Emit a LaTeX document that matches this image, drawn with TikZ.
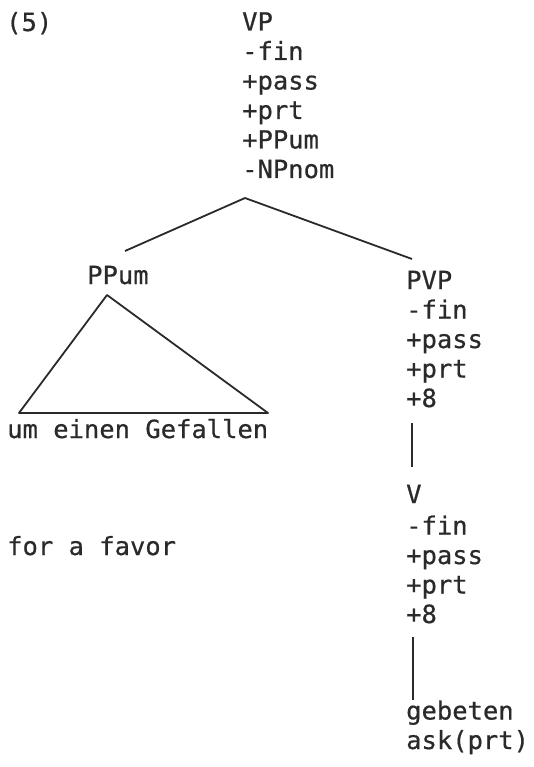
\documentclass[tikz,border=0pt]{standalone}
\usepackage{fontspec}
\setmainfont{DejaVu Sans Mono}[FakeBold=0.6, FakeStretch=1.02]
\usepackage{xcolor}
\usetikzlibrary{positioning}
\definecolor{ink}{HTML}{2A2A2A}
\tikzstyle{feat} = [inner sep=0pt, anchor=base west, align=left, text=ink, font=\fontsize{25}{29.5}\selectfont]
\tikzstyle{branch} = [draw=ink, line width=1.8pt, line join=round]

\begin{document}
\begin{tikzpicture}[x=1pt, y=-1pt]
    \useasboundingbox (0,0) rectangle (534,767);
    % Nodes (base = baseline of the last line)
    \node [feat] (num) at (6,31) {(5)};
    \node [feat] (vp) at (242,178) {VP\\-fin\\+pass\\+prt\\+PPum\\-NPnom};
    \node [feat] (ppum) at (87,284) {PPum};
    \node [feat] (pvp) at (406,407) {PVP\\-fin\\+pass\\+prt\\+8};
    \node [feat] (gefallen) at (7,438) {um einen Gefallen};
    \node [feat] (favor) at (7,555) {for a favor};
    \node [feat] (v) at (406,623) {V\\[2pt]-fin\\+pass\\+prt\\+8};
    \node [feat] (gebeten) at (406,749) {gebeten\\ask(prt)};
    
    % Branch points
    \coordinate (vpfoot) at (245,198);
    \coordinate (ppumhead) at (125,251);
    \coordinate (pvphead) at (412,259);
    \coordinate (ppumfoot) at (107,295);
    \coordinate (gefleft) at (19,413);
    \coordinate (gefright) at (268,413);
    \coordinate (pvpfoot) at (412,423);
    \coordinate (vhead) at (412,467);
    \coordinate (vfoot) at (413,637);
    \coordinate (gebhead) at (413,700);
    
    % Edges
    \path [branch] (vpfoot) -- (ppumhead);
    \path [branch] (vpfoot) -- (pvphead);
    \path [branch] (ppumfoot) -- (gefleft) -- (gefright) -- cycle;
    \path [branch] (pvpfoot) -- (vhead);
    \path [branch] (vfoot) -- (gebhead);
\end{tikzpicture}
\end{document}
